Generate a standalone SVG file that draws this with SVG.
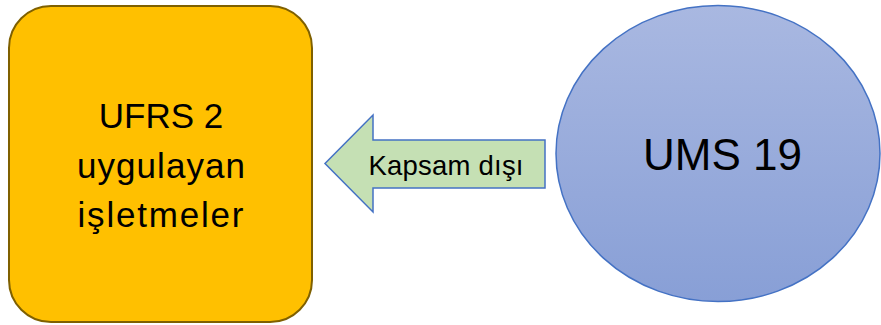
<svg xmlns="http://www.w3.org/2000/svg" width="881" height="325" viewBox="0 0 881 325">
  <defs>
    <linearGradient id="blueGrad" x1="0" y1="0" x2="0" y2="1">
      <stop offset="0" stop-color="#A9B8E1"/>
      <stop offset="1" stop-color="#889FD6"/>
    </linearGradient>
  </defs>
  <style>
    .lbl { font-family: "Liberation Sans", Arial, sans-serif; fill: #000000; text-anchor: middle; }
  </style>
  <rect width="881" height="325" fill="#FFFFFF"/>
  <g id="connectors">
    <g id="arrow-kapsam-disi">
      <path d="M545,140 L373,140 L373,115 L325,163.5 L373,212 L373,188 L545,188 Z" fill="#C5E0B4" stroke="#4472C4" stroke-width="1.5" stroke-linejoin="miter"/>
      <text class="lbl" x="446" y="175" font-size="27.5" textLength="155" lengthAdjust="spacing">Kapsam dışı</text>
    </g>
  </g>
  <g id="node-ufrs2">
    <rect x="9" y="6" width="303" height="316" rx="42" ry="42" fill="#FFC000" stroke="#7F6000" stroke-width="2"/>
    <text class="lbl" x="161" y="128" font-size="35">UFRS 2</text>
    <text class="lbl" x="161" y="177.5" font-size="35" textLength="168" lengthAdjust="spacing">uygulayan</text>
    <text class="lbl" x="160.5" y="226.5" font-size="35" textLength="166" lengthAdjust="spacing">işletmeler</text>
  </g>
  <g id="node-ums19">
    <ellipse cx="718" cy="153.5" rx="162" ry="148" fill="url(#blueGrad)" stroke="#4472C4" stroke-width="1.5"/>
    <text class="lbl" x="722.5" y="169.5" font-size="44">UMS 19</text>
  </g>
</svg>
